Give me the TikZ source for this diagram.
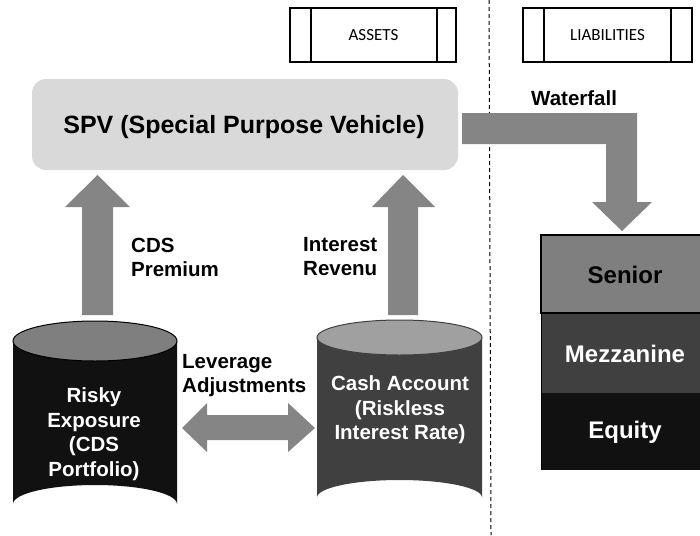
\documentclass[tikz,border=0pt]{standalone}
\usepackage{fontspec}
\setmainfont{Liberation Sans}
\newfontfamily\calib{Carlito}
\definecolor{spvgray}{HTML}{D9D9D9}
\definecolor{arrgray}{HTML}{858585}
\definecolor{seniorgray}{HTML}{7F7F7F}
\definecolor{mezzgray}{HTML}{404040}
\definecolor{eqblack}{HTML}{111111}
\definecolor{cashtop}{HTML}{A0A0A0}
\begin{document}
\begin{tikzpicture}[x=1pt,y=-1pt,
  blockarrow/.style={fill=arrgray,draw=none},
  lbl/.style={font=\bfseries\fontsize{20.5}{24}\selectfont,align=left,inner sep=0pt},
  cyltext/.style={font=\bfseries\fontsize{20.5}{24.5}\selectfont,align=center,text=white,inner sep=0pt},
  tranche/.style={font=\bfseries\fontsize{24}{28}\selectfont,inner sep=0pt},
  hdrbox/.style={draw=black,line width=1.3pt},
  hdrtext/.style={font=\calib\fontsize{17}{20}\selectfont,inner sep=0pt}]
\useasboundingbox (0,0) rectangle (700,535);
\clip (0,0) rectangle (700,535);

% dashed separator
\coordinate (dtop) at (489,0);
\coordinate (dbot) at (491,535);
\draw[line width=1pt,dash pattern=on 4pt off 3pt] (dtop) -- (dbot);

% header boxes
\draw[hdrbox] (290,8) rectangle (456,62);
\draw[hdrbox] (311,8) -- (311,62) (437,8) -- (437,62);
\node[hdrtext] (assets) at (373.5,35) {ASSETS};
\draw[hdrbox] (523,8) rectangle (692,62);
\draw[hdrbox] (544,8) -- (544,62) (671,8) -- (671,62);
\node[hdrtext] (liab) at (607.5,35) {LIABILITIES};

% SPV box
\fill[spvgray,rounded corners=14pt] (32,79) rectangle (458,170);
\node[font=\bfseries\fontsize{25}{30}\selectfont,inner sep=0pt] (spv) at (244,127) {SPV (Special Purpose Vehicle)};

% Waterfall arrow
\fill[blockarrow] (462,113) -- (637,113) -- (637,202) -- (652,202) -- (622,231)
  -- (592,202) -- (606,202) -- (606,144) -- (462,144) -- cycle;
\node[lbl,anchor=west] (wf) at (531,98) {Waterfall};

% tranches
\fill[eqblack] (541,393) rectangle (712,470);
\fill[mezzgray] (541,313) rectangle (712,393);
\filldraw[fill=seniorgray,draw=black,line width=1.3pt] (541,235) rectangle (712,313);
\draw[line width=1pt] (541,235) -- (541,470);
\node[tranche] (senior) at (625,275) {Senior};
\node[tranche,text=white] (mezz) at (625,354) {Mezzanine};
\node[tranche,text=white] (equity) at (625,432) {Equity};

% upward arrows
\fill[blockarrow] (82,315) -- (82,207) -- (65,207) -- (97.5,175) -- (130,207) -- (113,207) -- (113,315) -- cycle;
\fill[blockarrow] (388,315) -- (388,207) -- (372,207) -- (403,175) -- (435,207) -- (418,207) -- (418,315) -- cycle;
\node[lbl,anchor=west] (cdsp) at (131,257) {CDS\\Premium};
\node[lbl,anchor=west] (intr) at (303,257) {Interest\\Revenu};

% Risky cylinder
\fill[eqblack] (13,341) -- (13,504) arc[start angle=180,end angle=360,x radius=82,y radius=19] -- (177,341) -- cycle;
\filldraw[fill=seniorgray,draw=black,line width=1pt] (95,341) ellipse [x radius=82,y radius=20];
\node[cyltext] (risky) at (94,434) {Risky\\Exposure\\(CDS\\Portfolio)};

% Cash cylinder
\fill[mezzgray] (317,337.5) -- (317,497.5) arc[start angle=180,end angle=360,x radius=82.5,y radius=17.5] -- (482,337.5) -- cycle;
\filldraw[fill=cashtop,draw=mezzgray,line width=1pt] (399.5,337.5) ellipse [x radius=82.5,y radius=17.5];
\node[cyltext] (cash) at (400,410) {Cash Account\\(Riskless\\Interest Rate)};

% double arrow
\fill[blockarrow] (182,428) -- (207,403) -- (207,415) -- (288,415) -- (288,403) -- (315,428)
  -- (288,452) -- (288,440) -- (207,440) -- (207,452) -- cycle;
\node[lbl,anchor=west] (lev) at (182,376) {Leverage\\Adjustments};
\end{tikzpicture}
\end{document}
